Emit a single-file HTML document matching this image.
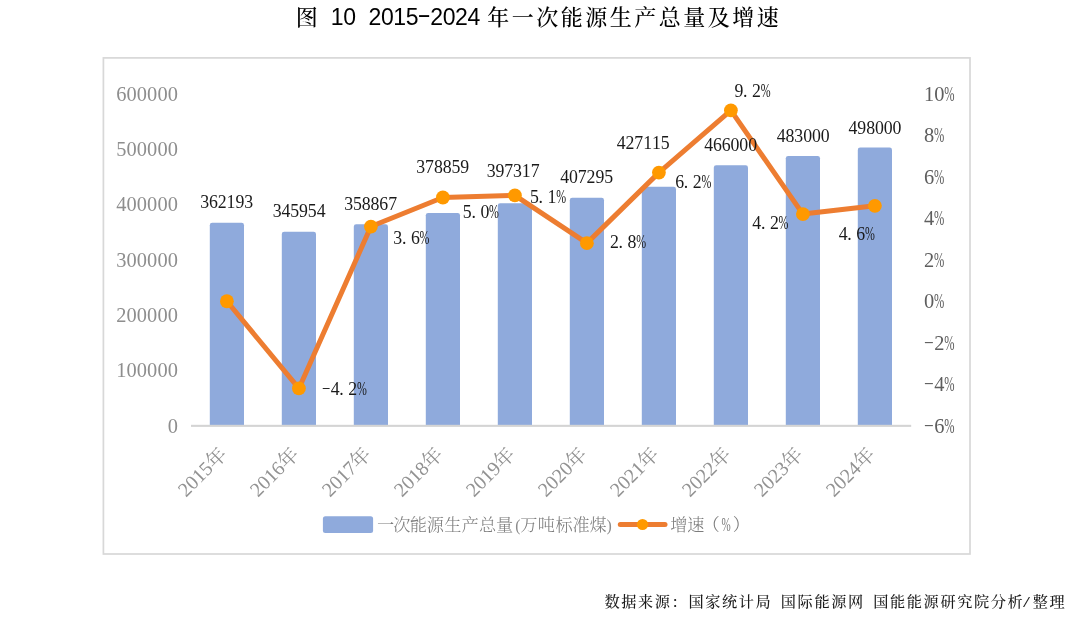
<!DOCTYPE html>
<html lang="zh-CN">
<head>
<meta charset="utf-8">
<title>图 10 2015-2024 年一次能源生产总量及增速</title>
<style>
html,body{margin:0;padding:0;background:#fff;}
body{width:1080px;height:619px;overflow:hidden;position:relative;}
svg{position:absolute;left:0;top:0;display:block;}
text{font-family:"Liberation Serif", "Noto Serif CJK SC", serif;}
.ax{font-size:20.4px;fill:#8e8e8e;}
.xl{font-size:20px;fill:#929292;}
.rax{fill:#5e5e5e;}
.dl{font-size:17.8px;fill:#1a1a1a;}
.lg{font-size:17.2px;fill:#7c7c7c;font-weight:300;}
.tt{font-size:22.0px;fill:#000;}
.tsans{font-family:"Liberation Sans", "Noto Sans CJK SC", sans-serif;font-size:23.0px;}
.tkai{font-family:"Liberation Serif", "Noto Serif CJK SC", serif;font-weight:500;}
.ft{font-size:15.2px;fill:#1c1c1c;font-weight:500;}
</style>
</head>
<body>
<svg width="1080" height="619" viewBox="0 0 1080 619">
<rect x="103.4" y="57.9" width="866.6" height="496.1" fill="#fff" stroke="#d8d8d8" stroke-width="1.7"/>
<g fill="#8faadc">
<path d="M209.80 424.90V225.14Q209.80 222.74 212.20 222.74H241.60Q244.00 222.74 244.00 225.14V424.90Z"/>
<path d="M281.80 424.90V234.12Q281.80 231.72 284.20 231.72H313.60Q316.00 231.72 316.00 234.12V424.90Z"/>
<path d="M353.80 424.90V226.70Q353.80 224.30 356.20 224.30H385.60Q388.00 224.30 388.00 226.70V424.90Z"/>
<path d="M425.80 424.90V215.30Q425.80 212.90 428.20 212.90H457.60Q460.00 212.90 460.00 215.30V424.90Z"/>
<path d="M497.80 424.90V205.70Q497.80 203.30 500.20 203.30H529.60Q532.00 203.30 532.00 205.70V424.90Z"/>
<path d="M569.80 424.90V200.18Q569.80 197.78 572.20 197.78H601.60Q604.00 197.78 604.00 200.18V424.90Z"/>
<path d="M641.80 424.90V189.21Q641.80 186.81 644.20 186.81H673.60Q676.00 186.81 676.00 189.21V424.90Z"/>
<path d="M713.80 424.90V167.70Q713.80 165.30 716.20 165.30H745.60Q748.00 165.30 748.00 167.70V424.90Z"/>
<path d="M785.80 424.90V158.29Q785.80 155.89 788.20 155.89H817.60Q820.00 155.89 820.00 158.29V424.90Z"/>
<path d="M857.80 424.90V149.99Q857.80 147.59 860.20 147.59H889.60Q892.00 147.59 892.00 149.99V424.90Z"/>
</g>
<rect x="191" y="424.8" width="720.2" height="2.1" fill="#d4d4d4"/>
<polyline points="226.90,301.25 298.90,388.40 370.90,226.55 442.90,197.50 514.90,195.43 586.90,243.15 658.90,172.60 730.90,110.35 802.90,214.10 874.90,205.80" fill="none" stroke="#ed7d31" stroke-width="5" stroke-linejoin="round" stroke-linecap="round"/>
<g fill="#ff9900">
<circle cx="226.90" cy="301.25" r="6.9"/>
<circle cx="298.90" cy="388.40" r="6.9"/>
<circle cx="370.90" cy="226.55" r="6.9"/>
<circle cx="442.90" cy="197.50" r="6.9"/>
<circle cx="514.90" cy="195.43" r="6.9"/>
<circle cx="586.90" cy="243.15" r="6.9"/>
<circle cx="658.90" cy="172.60" r="6.9"/>
<circle cx="730.90" cy="110.35" r="6.9"/>
<circle cx="802.90" cy="214.10" r="6.9"/>
<circle cx="874.90" cy="205.80" r="6.9"/>
</g>
<text class="ax" x="167.66" y="432.55">0</text>
<text class="ax" x="116.26 126.54 136.82 147.10 157.38 167.66" y="377.22">100000</text>
<text class="ax" x="116.26 126.54 136.82 147.10 157.38 167.66" y="321.88">200000</text>
<text class="ax" x="116.26 126.54 136.82 147.10 157.38 167.66" y="266.55">300000</text>
<text class="ax" x="116.26 126.54 136.82 147.10 157.38 167.66" y="211.22">400000</text>
<text class="ax" x="116.26 126.54 136.82 147.10 157.38 167.66" y="155.88">500000</text>
<text class="ax" x="116.26 126.54 136.82 147.10 157.38 167.66" y="100.55">600000</text>
<text class="ax rax" x="923.79 934.32 944.35" y="428.97 432.85 432.85"><tspan font-size="14.28" textLength="10.28" lengthAdjust="spacingAndGlyphs">-</tspan>6<tspan textLength="10.28" lengthAdjust="spacingAndGlyphs">%</tspan></text>
<text class="ax rax" x="923.79 934.32 944.35" y="387.47 391.35 391.35"><tspan font-size="14.28" textLength="10.28" lengthAdjust="spacingAndGlyphs">-</tspan>4<tspan textLength="10.28" lengthAdjust="spacingAndGlyphs">%</tspan></text>
<text class="ax rax" x="923.79 934.32 944.35" y="345.97 349.85 349.85"><tspan font-size="14.28" textLength="10.28" lengthAdjust="spacingAndGlyphs">-</tspan>2<tspan textLength="10.28" lengthAdjust="spacingAndGlyphs">%</tspan></text>
<text class="ax rax" x="924.04 934.07" y="308.35">0<tspan textLength="10.28" lengthAdjust="spacingAndGlyphs">%</tspan></text>
<text class="ax rax" x="924.04 934.07" y="266.85">2<tspan textLength="10.28" lengthAdjust="spacingAndGlyphs">%</tspan></text>
<text class="ax rax" x="924.04 934.07" y="225.35">4<tspan textLength="10.28" lengthAdjust="spacingAndGlyphs">%</tspan></text>
<text class="ax rax" x="924.04 934.07" y="183.85">6<tspan textLength="10.28" lengthAdjust="spacingAndGlyphs">%</tspan></text>
<text class="ax rax" x="924.04 934.07" y="142.35">8<tspan textLength="10.28" lengthAdjust="spacingAndGlyphs">%</tspan></text>
<text class="ax rax" x="924.04 934.32 944.35" y="100.85">10<tspan textLength="10.28" lengthAdjust="spacingAndGlyphs">%</tspan></text>
<text class="ax xl" x="-60.05 -50.15 -40.25 -30.35 -20.40" y="0" transform="translate(228.50 455.30) rotate(-45)">2015年</text>
<text class="ax xl" x="-60.05 -50.15 -40.25 -30.35 -20.40" y="0" transform="translate(300.50 455.30) rotate(-45)">2016年</text>
<text class="ax xl" x="-60.05 -50.15 -40.25 -30.35 -20.40" y="0" transform="translate(372.50 455.30) rotate(-45)">2017年</text>
<text class="ax xl" x="-60.05 -50.15 -40.25 -30.35 -20.40" y="0" transform="translate(444.50 455.30) rotate(-45)">2018年</text>
<text class="ax xl" x="-60.05 -50.15 -40.25 -30.35 -20.40" y="0" transform="translate(516.50 455.30) rotate(-45)">2019年</text>
<text class="ax xl" x="-60.05 -50.15 -40.25 -30.35 -20.40" y="0" transform="translate(588.50 455.30) rotate(-45)">2020年</text>
<text class="ax xl" x="-60.05 -50.15 -40.25 -30.35 -20.40" y="0" transform="translate(660.50 455.30) rotate(-45)">2021年</text>
<text class="ax xl" x="-60.05 -50.15 -40.25 -30.35 -20.40" y="0" transform="translate(732.50 455.30) rotate(-45)">2022年</text>
<text class="ax xl" x="-60.05 -50.15 -40.25 -30.35 -20.40" y="0" transform="translate(804.50 455.30) rotate(-45)">2023年</text>
<text class="ax xl" x="-60.05 -50.15 -40.25 -30.35 -20.40" y="0" transform="translate(876.50 455.30) rotate(-45)">2024年</text>
<text class="dl" x="200.20 209.00 217.80 226.60 235.40 244.20" y="208.10">362193</text>
<text class="dl" x="272.65 281.45 290.25 299.05 307.85 316.65" y="217.20">345954</text>
<text class="dl" x="344.15 352.95 361.75 370.55 379.35 388.15" y="209.50">358867</text>
<text class="dl" x="416.30 425.10 433.90 442.70 451.50 460.30" y="172.80">378859</text>
<text class="dl" x="486.65 495.45 504.25 513.05 521.85 530.65" y="176.80">397317</text>
<text class="dl" x="560.20 569.00 577.80 586.60 595.40 604.20" y="183.10">407295</text>
<text class="dl" x="616.75 625.55 634.35 643.15 651.95 660.75" y="148.60">427115</text>
<text class="dl" x="704.15 712.95 721.75 730.55 739.35 748.15" y="151.00">466000</text>
<text class="dl" x="776.75 785.55 794.35 803.15 811.95 820.75" y="141.80">483000</text>
<text class="dl" x="848.55 857.35 866.15 874.95 883.75 892.55" y="133.50">498000</text>
<text class="dl" x="321.82 330.75 339.34 348.35 357.02" y="391.42 394.80 394.80 394.80 394.80"><tspan font-size="12.46" textLength="8.80" lengthAdjust="spacingAndGlyphs">-</tspan>4.2<tspan textLength="9.86" lengthAdjust="spacingAndGlyphs">%</tspan></text>
<text class="dl" x="393.35 401.94 410.95 419.62" y="243.80">3.6<tspan textLength="9.86" lengthAdjust="spacingAndGlyphs">%</tspan></text>
<text class="dl" x="462.85 471.44 480.45 489.12" y="217.60">5.0<tspan textLength="9.86" lengthAdjust="spacingAndGlyphs">%</tspan></text>
<text class="dl" x="530.00 538.59 547.60 556.27" y="202.80">5.1<tspan textLength="9.86" lengthAdjust="spacingAndGlyphs">%</tspan></text>
<text class="dl" x="610.00 618.59 627.60 636.27" y="248.10">2.8<tspan textLength="9.86" lengthAdjust="spacingAndGlyphs">%</tspan></text>
<text class="dl" x="675.25 683.84 692.85 701.52" y="187.60">6.2<tspan textLength="9.86" lengthAdjust="spacingAndGlyphs">%</tspan></text>
<text class="dl" x="734.45 743.04 752.05 760.72" y="97.00">9.2<tspan textLength="9.86" lengthAdjust="spacingAndGlyphs">%</tspan></text>
<text class="dl" x="752.35 760.94 769.95 778.62" y="229.30">4.2<tspan textLength="9.86" lengthAdjust="spacingAndGlyphs">%</tspan></text>
<text class="dl" x="838.65 847.24 856.25 864.92" y="239.80">4.6<tspan textLength="9.86" lengthAdjust="spacingAndGlyphs">%</tspan></text>
<rect x="322.9" y="516.2" width="50.2" height="16.7" rx="2.5" fill="#8faadc"/>
<text class="lg" x="377.00 393.30 409.80 426.80 444.20 461.40 478.90 496.10 515.17 520.15 537.65 555.40 572.40 589.50 606.47" y="530.8">一次能源生产总量<tspan font-size="15.82" fill="#8c8c8c">(</tspan>万吨标准煤<tspan font-size="15.82" fill="#8c8c8c">)</tspan></text>
<line x1="620.3" y1="524.5" x2="665.0" y2="524.5" stroke="#ed7d31" stroke-width="5" stroke-linecap="round"/>
<circle cx="642.5" cy="524.5" r="5.6" fill="#ff9900"/>
<text class="lg" x="670.30 687.30 702.40 721.40 732.70" y="530.8">增速（<tspan font-size="19.26" textLength="9.2" lengthAdjust="spacingAndGlyphs">%</tspan>）</text>
<text class="tt" x="295.85 320.00 330.78 343.13 356.00 368.58 380.93 393.28 405.63 417.20 430.33 442.68 455.03 467.38 480.00 487.25 511.75 536.25 560.75 585.25 609.75 634.25 658.75 683.25 707.75 732.25 756.75" y="24.60 25.00 25.00 25.00 25.00 25.00 25.00 25.00 25.00 21.60 25.00 25.00 25.00 25.00 25.00 25.00 25.00 25.00 25.00 25.00 25.00 25.00 25.00 25.00 25.00 25.00 25.00"><tspan class="tkai">图</tspan><tspan class="tsans"> 10 2015<tspan textLength="13.75" lengthAdjust="spacingAndGlyphs">-</tspan>2024 </tspan><tspan class="tkai">年一次能源生产总量及增速</tspan></text>
<text class="ft" x="604.40 621.20 638.00 654.80 671.60 688.40 705.20 722.00 738.80 755.60 771.60 780.80 797.60 814.40 831.20 848.00 864.00 873.20 890.00 906.80 923.60 940.40 957.20 974.00 990.80 1007.60 1023.00 1032.80 1049.60" y="606.8">数据来源：国家统计局 国际能源网 国能能源研究院分析<tspan textLength="7.06" lengthAdjust="spacingAndGlyphs">/</tspan>整理</text>
</svg>
</body>
</html>
